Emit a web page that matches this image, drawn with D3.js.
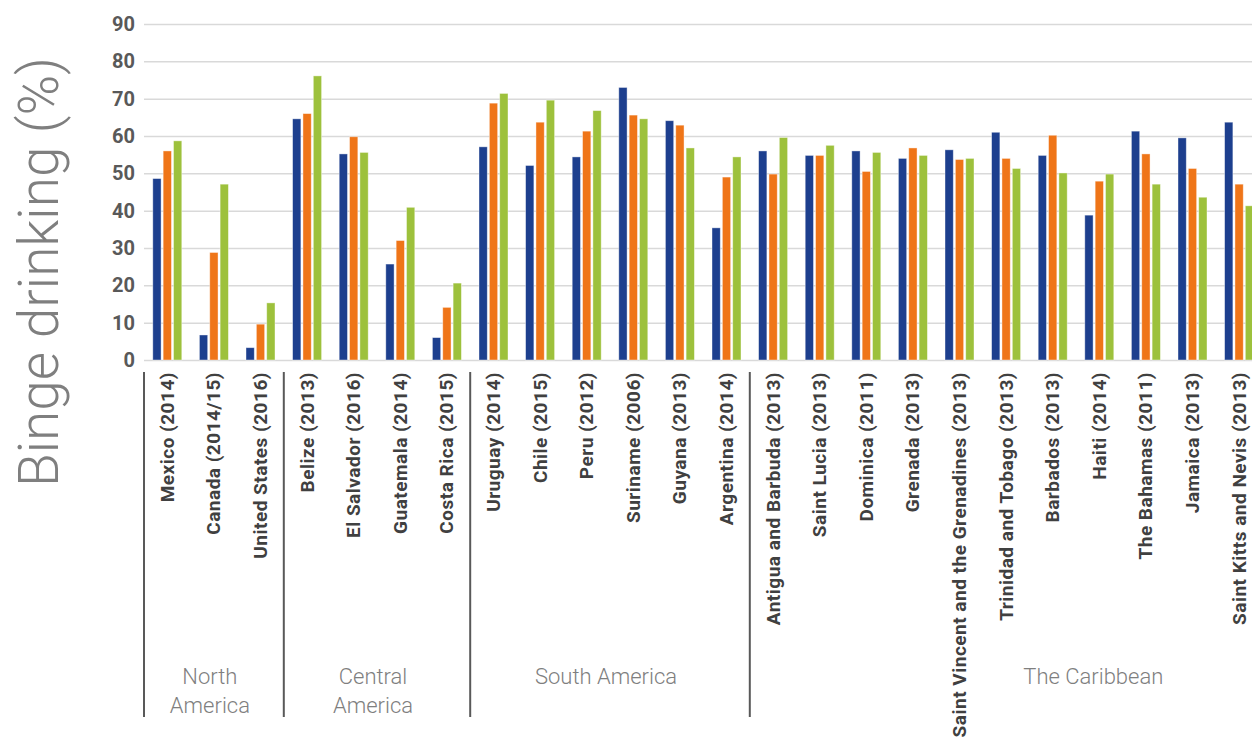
<!DOCTYPE html>
<html>
<head>
<meta charset="utf-8">
<script src="https://cdn.jsdelivr.net/npm/d3@7"></script>
<style>
  html, body { margin: 0; padding: 0; background: #fff; overflow: hidden; }
  svg { display: block; }
</style>
</head>
<body>
<div id="chart"></div>
<script>
/* Binge drinking by country, grouped by region.
 * Three unnamed series (blue / orange / green).
 */

var countries = [
    "Mexico (2014)", "Canada (2014/15)", "United States (2016)",
    "Belize (2013)", "El Salvador (2016)", "Guatemala (2014)", "Costa Rica (2015)",
    "Uruguay (2014)", "Chile (2015)", "Peru (2012)", "Suriname (2006)", "Guyana (2013)", "Argentina (2014)",
    "Antigua and Barbuda (2013)", "Saint Lucia (2013)", "Dominica (2011)", "Grenada (2013)",
    "Saint Vincent and the Grenadines (2013)", "Trinidad and Tobago (2013)", "Barbados (2013)",
    "Haiti (2014)", "The Bahamas (2011)", "Jamaica (2013)", "Saint Kitts and Nevis (2013)"
];

var blueValues = [48.6, 6.7, 3.3, 64.6, 55.2, 25.7, 6.0, 57.1, 52.1, 54.4, 73.0, 64.1, 35.4,
                  56.0, 54.8, 56.0, 54.0, 56.3, 61.0, 54.8, 38.8, 61.3, 59.5, 63.7];
var orangeValues = [56.0, 28.8, 9.6, 66.0, 59.8, 32.0, 14.1, 68.8, 63.7, 61.3, 65.6, 62.9, 49.0,
                    49.8, 54.8, 50.5, 56.8, 53.7, 54.0, 60.2, 47.9, 55.2, 51.3, 47.1];
var greenValues = [58.7, 47.1, 15.3, 76.1, 55.6, 40.9, 20.6, 71.4, 69.6, 66.8, 64.6, 56.8, 54.4,
                   59.6, 57.5, 55.6, 54.8, 54.0, 51.3, 50.1, 49.8, 47.1, 43.6, 41.3];

var yTicks = [0, 10, 20, 30, 40, 50, 60, 70, 80, 90];

// regions: first and last country of each
var regionNames = ["North America", "Central America", "South America", "The Caribbean"];
var regionFirst = ["Mexico (2014)", "Belize (2013)", "Uruguay (2014)", "Antigua and Barbuda (2013)"];
var regionLast = ["United States (2016)", "Costa Rica (2015)", "Argentina (2014)", "Saint Kitts and Nevis (2013)"];
var regionLines = [["North", "America"], ["Central", "America"], ["South America"], ["The Caribbean"]];

var seriesKeys = ["blue", "orange", "green"];
var seriesColors = {blue: "#1d3f8e", orange: "#ef7518", green: "#9dc13c"};

var W = 1252, H = 738;
var margin = {left: 144, top: 24};
var step = 46.6;  // the plot runs past the right edge of the picture, as in the original
var plotBottom = 360;
var FONT = "Roboto, 'DejaVu Sans', sans-serif";

var svg = d3.select("#chart").append("svg")
    .attr("width", W)
    .attr("height", H);

var x0 = d3.scaleBand()
    .domain(countries)
    .range([margin.left, margin.left + step * countries.length])
    .padding(0);

var x1 = d3.scaleBand()
    .domain(seriesKeys)
    .range([8.8, 37.8])
    .paddingInner(0.2);

var y = d3.scaleLinear()
    .domain([0, 90])
    .range([plotBottom, margin.top]);

var rows = countries.map(function (c, i) {
    return {country: c, blue: blueValues[i], orange: orangeValues[i], green: greenValues[i]};
});

// grid + y labels
var yAxis = svg.append("g")
    .attr("transform", "translate(" + margin.left + ",0)")
    .call(d3.axisLeft(y)
        .tickValues(yTicks)
        .tickSize(-(W - margin.left + 20))
        .tickPadding(9));

yAxis.select(".domain").remove();
yAxis.selectAll(".tick line")
    .attr("stroke", "#d9d9d9")
    .attr("stroke-width", 1.5);
yAxis.selectAll(".tick text")
    .attr("fill", "#595959")
    .style("font-family", FONT)
    .style("font-weight", "bold")
    .style("font-size", "20px");

// bars
var groups = svg.append("g").selectAll("g")
    .data(rows)
    .join("g")
    .attr("transform", function (d) { return "translate(" + x0(d.country) + ",0)"; });

groups.selectAll("rect")
    .data(function (d) { return seriesKeys.map(function (k) { return {key: k, value: d[k]}; }); })
    .join("rect")
    .attr("x", function (d) { return x1(d.key); })
    .attr("y", function (d) { return y(d.value); })
    .attr("width", x1.bandwidth())
    .attr("height", function (d) { return y(0) - y(d.value); })
    .attr("fill", function (d) { return seriesColors[d.key]; })
    .attr("stroke", "#ffffff")
    .attr("stroke-opacity", 0.5)
    .attr("stroke-width", 0.8);

// country labels, rotated
svg.append("g").selectAll("text")
    .data(countries)
    .join("text")
    .attr("transform", function (d) {
        return "translate(" + (x0(d) + x0.bandwidth() / 2 + 6.5) + "," + 372 + ") rotate(-90)";
    })
    .attr("text-anchor", "end")
    .attr("fill", "#404040")
    .style("font-family", FONT)
    .style("font-weight", "bold")
    .style("font-size", "19px")
    .style("letter-spacing", "0.5px")
    .text(function (d) { return d; });

// region separators
svg.append("g").selectAll("line")
    .data(regionFirst)
    .join("line")
    .attr("x1", function (d) { return x0(d); })
    .attr("x2", function (d) { return x0(d); })
    .attr("y1", 372)
    .attr("y2", 717)
    .attr("stroke", "#595959")
    .attr("stroke-width", 2);

// region labels
var regionLabel = svg.append("g").selectAll("text")
    .data(regionNames)
    .join("text")
    .attr("text-anchor", "middle")
    .attr("fill", "#7f7f7f")
    .style("font-family", FONT)
    .style("font-weight", 300)
    .style("font-size", "22px")
    .attr("transform", function (d, i) {
        var a = x0(regionFirst[i]);
        var b = x0(regionLast[i]) + x0.bandwidth();
        // the Caribbean label sits under Haiti in the original (its group runs off the picture)
        var cx = i === 3 ? x0("Haiti (2014)") + x0.bandwidth() / 2 - 6 : (a + b) / 2 - 4;
        return "translate(" + cx + ",684)";
    });

regionLabel.selectAll("tspan")
    .data(function (d, i) { return regionLines[i]; })
    .join("tspan")
    .attr("x", 0)
    .attr("dy", function (d, i) { return i === 0 ? 0 : 29; })
    .text(function (d) { return d; });

// y axis title
svg.append("text")
    .attr("transform", "translate(58,272) rotate(-90)")
    .attr("text-anchor", "middle")
    .attr("fill", "#7f7f7f")
    .style("font-family", FONT)
    .style("font-weight", 300)
    .style("font-size", "55px")
    .text("Binge drinking (%)");
</script>
</body>
</html>
